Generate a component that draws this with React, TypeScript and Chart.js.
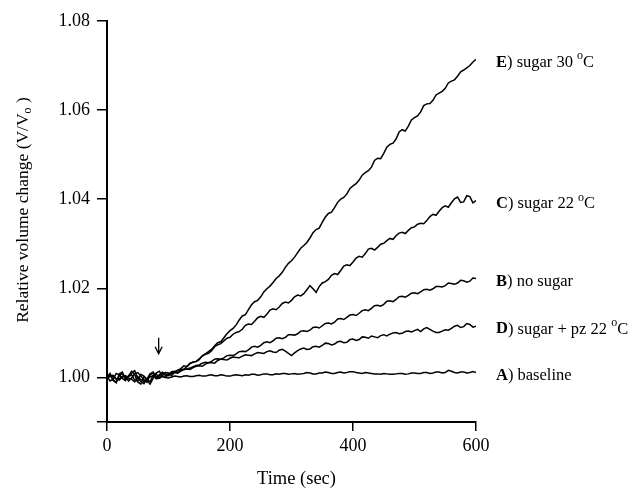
import React, { useEffect, useRef } from "react";
import { Chart, registerables } from "chart.js";

Chart.register(...registerables);

// sample times (sec), one reading every 5 s
const TIMES: number[] = Array.from({ length: 121 }, (_, i) => i * 5);

const SERIES_E = [
  1.0000, 1.0006, 0.9995, 0.9989, 1.0004, 1.0009, 0.9997, 1.0002, 1.0006, 0.9994,
  0.9992, 1.0007, 1.0003, 0.9996, 0.9990, 1.0005, 1.0008, 0.9999, 1.0004, 1.0011,
  1.0010, 1.0004, 1.0012, 1.0017, 1.0019, 1.0018, 1.0025, 1.0032, 1.0034, 1.0036,
  1.0042, 1.0048, 1.0053, 1.0058, 1.0063, 1.0071, 1.0078, 1.0080, 1.0089, 1.0098,
  1.0105, 1.0110, 1.0118, 1.0129, 1.0138, 1.0141, 1.0152, 1.0163, 1.0170, 1.0173,
  1.0181, 1.0192, 1.0199, 1.0205, 1.0213, 1.0222, 1.0228, 1.0236, 1.0247, 1.0256,
  1.0262, 1.0270, 1.0280, 1.0290, 1.0296, 1.0303, 1.0313, 1.0325, 1.0332, 1.0335,
  1.0348, 1.0360, 1.0368, 1.0371, 1.0381, 1.0393, 1.0400, 1.0404, 1.0412, 1.0424,
  1.0430, 1.0435, 1.0443, 1.0454, 1.0460, 1.0464, 1.0472, 1.0487, 1.0492, 1.0491,
  1.0503, 1.0517, 1.0523, 1.0526, 1.0535, 1.0551, 1.0556, 1.0553, 1.0564, 1.0578,
  1.0583, 1.0587, 1.0596, 1.0610, 1.0614, 1.0615, 1.0622, 1.0634, 1.0638, 1.0642,
  1.0649, 1.0661, 1.0665, 1.0668, 1.0676, 1.0686, 1.0690, 1.0695, 1.0700, 1.0708,
  1.0714,
];

const SERIES_C = [
  1.0002, 0.9992, 0.9996, 1.0009, 1.0006, 0.9998, 0.9993, 1.0004, 1.0010, 1.0015,
  0.9998, 0.9991, 0.9986, 0.9997, 1.0008, 1.0012, 1.0001, 1.0006, 1.0012, 1.0008,
  1.0006, 1.0013, 1.0014, 1.0011, 1.0020, 1.0026, 1.0024, 1.0031, 1.0035, 1.0036,
  1.0040, 1.0049, 1.0052, 1.0054, 1.0060, 1.0069, 1.0073, 1.0076, 1.0082, 1.0088,
  1.0090, 1.0097, 1.0101, 1.0103, 1.0108, 1.0117, 1.0120, 1.0119, 1.0126, 1.0134,
  1.0137, 1.0135, 1.0142, 1.0151, 1.0154, 1.0152, 1.0158, 1.0166, 1.0169, 1.0167,
  1.0173, 1.0181, 1.0185, 1.0183, 1.0188, 1.0197, 1.0206, 1.0199, 1.0191, 1.0204,
  1.0212, 1.0215, 1.0220, 1.0229, 1.0233, 1.0231, 1.0240, 1.0250, 1.0253, 1.0251,
  1.0259, 1.0268, 1.0272, 1.0270, 1.0278, 1.0288, 1.0290, 1.0286, 1.0292, 1.0299,
  1.0301, 1.0307, 1.0312, 1.0310, 1.0318, 1.0324, 1.0326, 1.0323, 1.0330, 1.0336,
  1.0338, 1.0344, 1.0346, 1.0345, 1.0352, 1.0361, 1.0366, 1.0364, 1.0373, 1.0381,
  1.0385, 1.0382, 1.0392, 1.0401, 1.0405, 1.0393, 1.0394, 1.0408, 1.0406, 1.0392,
  1.0397,
];

const SERIES_B = [
  0.9998, 1.0004, 1.0005, 0.9997, 0.9994, 1.0001, 1.0003, 0.9992, 0.9999, 1.0008,
  1.0011, 1.0003, 0.9995, 0.9989, 1.0006, 1.0010, 0.9998, 1.0003, 1.0009, 1.0005,
  1.0004, 1.0009, 1.0011, 1.0010, 1.0014, 1.0018, 1.0019, 1.0021, 1.0024, 1.0027,
  1.0028, 1.0032, 1.0034, 1.0033, 1.0036, 1.0041, 1.0042, 1.0041, 1.0044, 1.0049,
  1.0050, 1.0049, 1.0053, 1.0058, 1.0059, 1.0058, 1.0062, 1.0068, 1.0070, 1.0068,
  1.0072, 1.0078, 1.0080, 1.0078, 1.0082, 1.0088, 1.0089, 1.0087, 1.0090, 1.0096,
  1.0096, 1.0095, 1.0098, 1.0104, 1.0105, 1.0103, 1.0106, 1.0112, 1.0113, 1.0111,
  1.0116, 1.0121, 1.0122, 1.0120, 1.0124, 1.0131, 1.0132, 1.0130, 1.0135, 1.0140,
  1.0141, 1.0139, 1.0144, 1.0150, 1.0152, 1.0150, 1.0155, 1.0161, 1.0162, 1.0160,
  1.0164, 1.0171, 1.0172, 1.0170, 1.0175, 1.0181, 1.0182, 1.0180, 1.0184, 1.0189,
  1.0190, 1.0188, 1.0192, 1.0197, 1.0198, 1.0196, 1.0199, 1.0204, 1.0204, 1.0203,
  1.0206, 1.0212, 1.0211, 1.0209, 1.0212, 1.0218, 1.0217, 1.0214, 1.0216, 1.0223,
  1.0222,
];

const SERIES_D = [
  1.0001, 1.0009, 0.9993, 0.9988, 1.0008, 1.0012, 0.9996, 1.0003, 1.0014, 1.0006,
  0.9990, 0.9985, 1.0002, 0.9994, 0.9985, 0.9998, 1.0010, 1.0014, 1.0003, 1.0000,
  1.0008, 1.0011, 1.0012, 1.0010, 1.0015, 1.0018, 1.0019, 1.0018, 1.0022, 1.0025,
  1.0026, 1.0025, 1.0030, 1.0033, 1.0033, 1.0032, 1.0038, 1.0041, 1.0040, 1.0039,
  1.0043, 1.0046, 1.0045, 1.0044, 1.0048, 1.0051, 1.0050, 1.0049, 1.0053, 1.0056,
  1.0055, 1.0054, 1.0058, 1.0060, 1.0057, 1.0056, 1.0061, 1.0063, 1.0059, 1.0054,
  1.0049, 1.0055, 1.0060, 1.0064, 1.0066, 1.0063, 1.0064, 1.0069, 1.0070, 1.0068,
  1.0072, 1.0077, 1.0076, 1.0073, 1.0075, 1.0080, 1.0081, 1.0078, 1.0079, 1.0085,
  1.0086, 1.0083, 1.0085, 1.0091, 1.0090, 1.0088, 1.0093, 1.0091, 1.0089, 1.0094,
  1.0096, 1.0093, 1.0097, 1.0100, 1.0101, 1.0098, 1.0099, 1.0103, 1.0104, 1.0102,
  1.0105, 1.0108, 1.0103, 1.0109, 1.0112, 1.0108, 1.0104, 1.0101, 1.0101, 1.0104,
  1.0107, 1.0106, 1.0110, 1.0115, 1.0117, 1.0112, 1.0114, 1.0121, 1.0119, 1.0113,
  1.0115,
];

const SERIES_A = [
  0.9999, 1.0002, 1.0003, 0.9996, 0.9997, 1.0003, 1.0004, 0.9998, 0.9996, 0.9990,
  1.0002, 0.9995, 0.9991, 0.9996, 1.0001, 1.0004, 0.9997, 0.9998, 1.0002, 1.0000,
  0.9999, 1.0001, 1.0003, 1.0002, 1.0001, 1.0003, 1.0004, 1.0002, 1.0002, 1.0004,
  1.0005, 1.0003, 1.0003, 1.0005, 1.0006, 1.0004, 1.0004, 1.0006, 1.0005, 1.0003,
  1.0003, 1.0005, 1.0006, 1.0005, 1.0004, 1.0006, 1.0005, 1.0007, 1.0007, 1.0005,
  1.0006, 1.0008, 1.0008, 1.0006, 1.0006, 1.0008, 1.0007, 1.0009, 1.0009, 1.0007,
  1.0008, 1.0009, 1.0007, 1.0008, 1.0009, 1.0011, 1.0010, 1.0008, 1.0008, 1.0010,
  1.0010, 1.0012, 1.0011, 1.0009, 1.0009, 1.0011, 1.0012, 1.0010, 1.0011, 1.0013,
  1.0013, 1.0011, 1.0010, 1.0009, 1.0011, 1.0010, 1.0009, 1.0008, 1.0008, 1.0007,
  1.0009, 1.0008, 1.0007, 1.0007, 1.0008, 1.0009, 1.0009, 1.0007, 1.0008, 1.0010,
  1.0010, 1.0009, 1.0009, 1.0011, 1.0011, 1.0009, 1.0010, 1.0012, 1.0012, 1.0010,
  1.0011, 1.0016, 1.0014, 1.0011, 1.0010, 1.0012, 1.0012, 1.0010, 1.0011, 1.0013,
  1.0011,
];

// labels at the right end of each curve
const LABEL_LETTERS = ["E", "C", "B", "D", "A"];
const LABEL_TEXTS = [") sugar 30 ", ") sugar 22 ", ") no sugar", ") sugar + pz 22 ", ") baseline"];
const LABEL_DEGREE = [true, true, false, true, false];
const SERIES_LIST = [SERIES_E, SERIES_C, SERIES_B, SERIES_D, SERIES_A];

const X_TICKS = [0, 200, 400, 600];
const Y_TICKS = [0.99, 1.0, 1.02, 1.04, 1.06, 1.08];
const Y_MIN = 0.99;
const Y_MAX = 1.08;

// arrow marking sugar addition
const ARROW_TIME = 84;
const ARROW_TOP = 1.0089;
const ARROW_TIP = 1.0053;

const FONT = "'Liberation Serif', 'Times New Roman', serif";

const annotationPlugin = {
  id: "annotations",
  afterDraw(chart: any) {
    const { ctx, scales } = chart;
    const x = scales.x;
    const y = scales.y;
    ctx.save();
    ctx.fillStyle = "#000";
    ctx.strokeStyle = "#000";

    // right-side labels
    const endX = x.getPixelForValue(TIMES[TIMES.length - 1]) + 20;
    SERIES_LIST.forEach((s, i) => {
      const py = y.getPixelForValue(s[s.length - 1]) + 3;
      let px = endX;
      ctx.textBaseline = "middle";
      ctx.textAlign = "left";
      ctx.font = `bold 16.5px ${FONT}`;
      ctx.fillText(LABEL_LETTERS[i], px, py);
      px += ctx.measureText(LABEL_LETTERS[i]).width;
      ctx.font = `16.5px ${FONT}`;
      ctx.fillText(LABEL_TEXTS[i], px, py);
      px += ctx.measureText(LABEL_TEXTS[i]).width;
      if (LABEL_DEGREE[i]) {
        ctx.font = `12px ${FONT}`;
        ctx.fillText("o", px, py - 6);
        px += ctx.measureText("o").width;
        ctx.font = `16.5px ${FONT}`;
        ctx.fillText("C", px, py);
      }
    });

    // arrow
    const ax = x.getPixelForValue(ARROW_TIME);
    const at = y.getPixelForValue(ARROW_TOP);
    const ab = y.getPixelForValue(ARROW_TIP);
    ctx.lineWidth = 1.3;
    ctx.beginPath();
    ctx.moveTo(ax, at);
    ctx.lineTo(ax, ab);
    ctx.moveTo(ax - 3.5, ab - 7);
    ctx.lineTo(ax, ab);
    ctx.lineTo(ax + 3.5, ab - 7);
    ctx.stroke();

    // x-axis title
    const area = chart.chartArea;
    ctx.font = `18.5px ${FONT}`;
    ctx.textAlign = "center";
    ctx.textBaseline = "middle";
    ctx.fillText("Time (sec)", (area.left + area.right) / 2 + 5, area.bottom + 57);

    // y-axis title with subscript
    ctx.translate(23, 210);
    ctx.rotate(-Math.PI / 2);
    const p1 = "Relative volume change (V/V";
    const p2 = "o";
    const p3 = " )";
    ctx.font = `17.5px ${FONT}`;
    const w1 = ctx.measureText(p1).width;
    const w3 = ctx.measureText(p3).width;
    ctx.font = `12px ${FONT}`;
    const w2 = ctx.measureText(p2).width;
    let sx = -(w1 + w2 + w3) / 2;
    ctx.textAlign = "left";
    ctx.font = `17.5px ${FONT}`;
    ctx.fillText(p1, sx, 0);
    sx += w1;
    ctx.font = `12px ${FONT}`;
    ctx.fillText(p2, sx, 5);
    sx += w2;
    ctx.font = `17.5px ${FONT}`;
    ctx.fillText(p3, sx, 0);
    ctx.restore();
  },
};

export default function App() {
  const ref = useRef<HTMLCanvasElement | null>(null);

  useEffect(() => {
    if (!ref.current) return;
    const mk = (vals: number[]) => ({
      data: TIMES.map((t, i) => ({ x: t, y: vals[i] })),
      borderColor: "#000",
      borderWidth: 1.5,
      pointRadius: 0,
      tension: 0,
      fill: false,
    });
    const chart = new Chart(ref.current, {
      type: "line",
      data: { datasets: SERIES_LIST.map(mk) as any },
      options: {
        responsive: false,
        animation: false,
        layout: { padding: { left: 0, right: 160, top: 21, bottom: 0 } },
        plugins: { legend: { display: false }, tooltip: { enabled: false } },
        scales: {
          x: {
            type: "linear",
            min: 0,
            max: 600,
            afterBuildTicks: (s: any) => {
              s.ticks = X_TICKS.map((v) => ({ value: v }));
            },
            afterFit: (s: any) => {
              s.height = 69;
            },
            ticks: { color: "#000", font: { family: FONT, size: 18 }, padding: 4, maxRotation: 0 },
            grid: { drawOnChartArea: false, drawTicks: true, tickLength: 9, color: "#000", lineWidth: 1.5 },
            border: { display: true, color: "#000", width: 2 },
          },
          y: {
            type: "linear",
            min: Y_MIN,
            max: Y_MAX,
            afterBuildTicks: (s: any) => {
              s.ticks = Y_TICKS.map((v) => ({ value: v }));
            },
            afterFit: (s: any) => {
              s.width = 107;
            },
            ticks: {
              color: "#000",
              font: { family: FONT, size: 18 },
              padding: 7,
              callback: (v: any) => (Math.abs(v - Y_MIN) < 1e-6 ? "" : Number(v).toFixed(2)),
            },
            grid: { drawOnChartArea: false, drawTicks: true, tickLength: 10, color: "#000", lineWidth: 1.5 },
            border: { display: true, color: "#000", width: 2 },
          },
        },
      },
      plugins: [annotationPlugin],
    });
    return () => chart.destroy();
  }, []);

  return (
    <div style={{ position: "absolute", left: 0, top: 0, width: 636, height: 491, background: "#fff" }}>
      <canvas ref={ref} width={636} height={491} style={{ width: 636, height: 491 }} />
    </div>
  );
}
